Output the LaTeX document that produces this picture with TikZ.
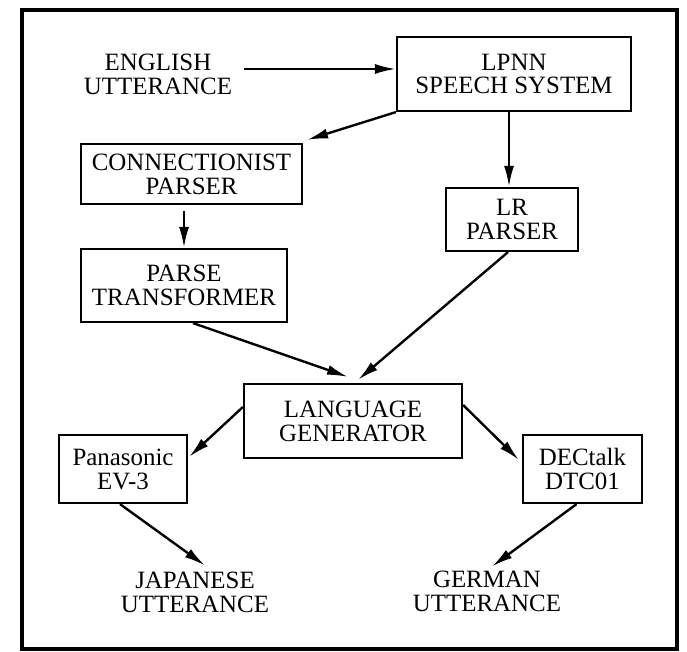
\documentclass[tikz,border=0pt]{standalone}
\usepackage{fontspec}
\setmainfont{Liberation Serif}
\usepackage{tikz}
\usetikzlibrary{arrows.meta,positioning}

\begin{document}
\begin{tikzpicture}[
  x=1bp, y=-1bp,
  box/.style={draw, line width=2.2pt, align=center, inner sep=2pt, font=\fontsize{25}{24}\selectfont},
  plain/.style={align=center, inner sep=2pt, font=\fontsize{25}{24}\selectfont},
  arrow/.style={-{Latex[length=21pt, width=10pt]}, line width=2.4pt}
]
\useasboundingbox (0,0) rectangle (687,652);
\draw[line width=3.5pt] (22,10) rectangle (677,649);

\node[plain] (english) at (158,74) {ENGLISH\\UTTERANCE};
\node[box, minimum width=234bp, minimum height=74bp] (lpnn) at (514,74) {LPNN\\SPEECH SYSTEM};
\node[box, minimum width=221bp, minimum height=60bp] (conn) at (191.5,174) {CONNECTIONIST\\PARSER};
\node[box, minimum width=132bp, minimum height=63bp] (lr) at (512,219.5) {LR\\PARSER};
\node[box, minimum width=206bp, minimum height=73bp] (parse) at (184,285.5) {PARSE\\TRANSFORMER};
\node[box, minimum width=218bp, minimum height=74bp] (lang) at (353,421) {LANGUAGE\\GENERATOR};
\node[box, minimum width=128bp, minimum height=68bp] (pan) at (123,469) {Panasonic\\EV-3};
\node[box, minimum width=119bp, minimum height=68bp] (dec) at (582.5,469) {DECtalk\\DTC01};
\node[plain] (jap) at (195,592) {JAPANESE\\UTTERANCE};
\node[plain] (ger) at (487,591) {GERMAN\\UTTERANCE};

\draw[arrow, shorten <=10pt] ([yshift=5bp]english.east) -- ([yshift=5bp]lpnn.west);
\draw[arrow] (lpnn.south west) -- ([xshift=4bp, yshift=3bp]conn.north east);
\draw[arrow] ([xshift=-3bp]lr.north |- lpnn.south) -- ([xshift=-3bp]lr.north);
\draw[arrow, shorten <=6pt] (parse.north |- conn.south) -- (parse.north);
\draw[arrow] ([xshift=9bp]parse.south) -- ([xshift=-5bp, yshift=6bp]lang.north);
\draw[arrow] ([xshift=-4bp]lr.south) -- ([xshift=5bp, yshift=3bp]lang.north);
\draw[arrow] ([yshift=14bp]lang.west) -- ([xshift=1bp, yshift=-23bp]pan.north east);
\draw[arrow] ([yshift=16bp]lang.east) -- ([xshift=-3bp, yshift=-26bp]dec.north west);
\draw[arrow] ([xshift=-3bp]pan.south) -- ([xshift=10bp, yshift=4bp]jap.north);
\draw[arrow] ([xshift=-6bp]dec.south) -- ([xshift=5bp, yshift=2bp]ger.north);
\end{tikzpicture}
\end{document}
